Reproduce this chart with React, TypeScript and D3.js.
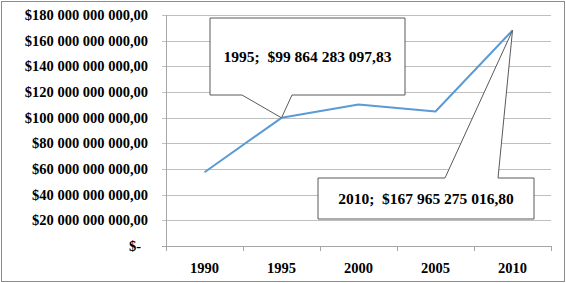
import React from "react";
import * as d3 from "d3";

const years = ["1990", "1995", "2000", "2005", "2010"];
const values = [57500000000, 99864283097.83, 110300000000, 104800000000, 167965275016.8];
const yTicks = [0, 20e9, 40e9, 60e9, 80e9, 100e9, 120e9, 140e9, 160e9, 180e9];
const yTickLabels = [
  "$-",
  "$20 000 000 000,00",
  "$40 000 000 000,00",
  "$60 000 000 000,00",
  "$80 000 000 000,00",
  "$100 000 000 000,00",
  "$120 000 000 000,00",
  "$140 000 000 000,00",
  "$160 000 000 000,00",
  "$180 000 000 000,00",
];
const callouts = [
  { index: 1, text: "1995;  $99 864 283 097,83", box: [210, 18, 405, 95], wedge: [242, 292] },
  { index: 4, text: "2010;  $167 965 275 016,80", box: [318, 178, 534, 219], wedge: [445, 498] },
];

export default function App() {
  const W = 566, H = 283;
  const left = 166, right = 551, top = 15, bottom = 246;
  const x = d3.scaleBand<string>().domain(years).range([left, right]);
  const y = d3.scaleLinear().domain([0, 180e9]).range([bottom, top]);
  const line = d3
    .line<number>()
    .x((_, i) => (x(years[i]) as number) + x.bandwidth() / 2)
    .y((v) => y(v));
  const font = "'Liberation Serif', 'Times New Roman', serif";
  const boundaries = years.map((_, i) => left + i * x.bandwidth()).concat([right]);

  return (
    <svg width={W} height={H} style={{ position: "absolute", left: 0, top: 0 }}>
      <rect x={0} y={0} width={W} height={H} fill="#fff" />
      <rect x={1.5} y={1.5} width={W - 3} height={H - 3} fill="none" stroke="#8c8c8c" strokeWidth={1} />
      {yTicks.map((t, i) => (
        <g key={t}>
          <line x1={162} x2={right} y1={Math.round(y(t)) + 0.5} y2={Math.round(y(t)) + 0.5}
            stroke={t === 0 ? "#a6a6a6" : "#bfbfbf"} strokeWidth={1} />
          <text x={t === 0 ? 141 : 148} y={y(t) + 5} textAnchor="end" fontFamily={font}
            fontWeight="bold" fontSize={14.5} fill="#000">{yTickLabels[i]}</text>
        </g>
      ))}
      <line x1={left + 0.5} x2={left + 0.5} y1={top} y2={bottom + 0.5} stroke="#a6a6a6" />
      {boundaries.map((b, i) => (
        <line key={i} x1={Math.round(b) + 0.5} x2={Math.round(b) + 0.5} y1={bottom} y2={bottom + 5} stroke="#a6a6a6" />
      ))}
      {years.map((yr) => (
        <text key={yr} x={(x(yr) as number) + x.bandwidth() / 2} y={273} textAnchor="middle"
          fontFamily={font} fontWeight="bold" fontSize={14.5} fill="#000">{yr}</text>
      ))}
      <path d={line(values) || ""} fill="none" stroke="#5b9bd5" strokeWidth={2} strokeLinejoin="round" />
      {callouts.map((c) => {
        const [x0, y0, x1, y1] = c.box;
        const px = (x(years[c.index]) as number) + x.bandwidth() / 2;
        const py = y(values[c.index]);
        const [w0, w1] = c.wedge;
        const below = py > y1;
        const d = below
          ? `M${x0},${y0}H${x1}V${y1}H${w1}L${px},${py}L${w0},${y1}H${x0}Z`
          : `M${x0},${y0}H${w0}L${px},${py}L${w1},${y0}H${x1}V${y1}H${x0}Z`;
        return (
          <g key={c.index}>
            <path d={d} fill="#fff" stroke="#595959" strokeWidth={1} />
            <text x={(x0 + x1) / 2} y={(y0 + y1) / 2 + 5.5} textAnchor="middle" fontFamily={font}
              fontWeight="bold" fontSize={15.5} fill="#000" style={{ whiteSpace: "pre" }}>{c.text}</text>
          </g>
        );
      })}
    </svg>
  );
}
